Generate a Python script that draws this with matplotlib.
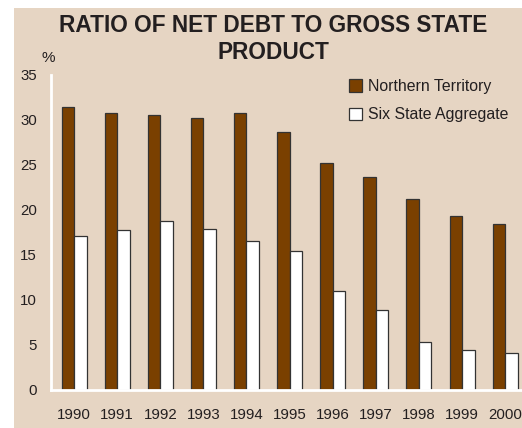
import matplotlib
matplotlib.use("Agg")
import matplotlib.pyplot as plt
from matplotlib.patches import Rectangle, Patch
import numpy as np

# Werte
years = ["1990", "1991", "1992", "1993", "1994", "1995", "1996", "1997", "1998", "1999", "2000"]
northern_territory = [31.4, 30.8, 30.5, 30.2, 30.8, 28.7, 25.2, 23.7, 21.2, 19.3, 18.4]
six_state = [17.1, 17.7, 18.8, 17.9, 16.5, 15.4, 11.0, 8.8, 5.3, 4.4, 4.1]
yticks = [0, 5, 10, 15, 20, 25, 30, 35]

beige = "#E6D5C3"
brown = "#7A4000"
text_col = "#231F20"
W, H = 522, 428

plt.rcParams["font.family"] = ["Liberation Sans", "DejaVu Sans"]

fig = plt.figure(figsize=(W / 100, H / 100), dpi=100)
fig.patch.set_facecolor("white")
fig.patches.append(Rectangle((14 / W, 0), 1 - 14 / W, (H - 8) / H,
                             transform=fig.transFigure, facecolor=beige,
                             edgecolor="none", zorder=-1))

ax = fig.add_axes([51 / W, (H - 389.5) / H, 1 - 51 / W, (389.5 - 75) / H])
ax.set_facecolor("none")
ax.set_zorder(1)

x = np.arange(len(years))
w = 0.29
ax.bar(x - w / 2, northern_territory, w, color=brown, edgecolor="#333333",
       linewidth=0.9, label="Northern Territory", zorder=2)
ax.bar(x + w / 2, six_state, w, color="white", edgecolor="#333333",
       linewidth=0.9, label="Six State Aggregate", zorder=2)

ax.set_xlim(-0.534, 10.39)
ax.set_ylim(0, 35)
ax.set_yticks(yticks)
ax.set_xticks(x)
ax.set_xticklabels(years)

for s in ["top", "right"]:
    ax.spines[s].set_visible(False)
for s in ["left", "bottom"]:
    ax.spines[s].set_color("white")
    ax.spines[s].set_linewidth(2)
    ax.spines[s].set_zorder(3)

ax.tick_params(axis="both", length=0, labelsize=10.8, colors=text_col)
ax.tick_params(axis="y", pad=10)
ax.tick_params(axis="x", pad=13)

handles = [Patch(facecolor=brown, edgecolor="#333333", linewidth=0.9),
           Patch(facecolor="white", edgecolor="#333333", linewidth=0.9)]
fig.legend(handles, ["Northern Territory", "Six State Aggregate"],
           loc="upper left", bbox_to_anchor=(349 / W, 1 - 79 / H),
           frameon=False, fontsize=11.4, borderpad=0, borderaxespad=0,
           handlelength=0.82, handleheight=0.82, handletextpad=0.4,
           labelspacing=0.85, labelcolor=text_col)

fig.text(48 / W, 1 - 58 / H, "%", ha="center", va="center", fontsize=11, color=text_col)
fig.text(273 / W, 1 - 14 / H, "RATIO OF NET DEBT TO GROSS STATE\nPRODUCT",
         ha="center", va="top", fontsize=16.3, fontweight="bold", color=text_col,
         linespacing=1.2)

fig.savefig("out.png", dpi=100)
